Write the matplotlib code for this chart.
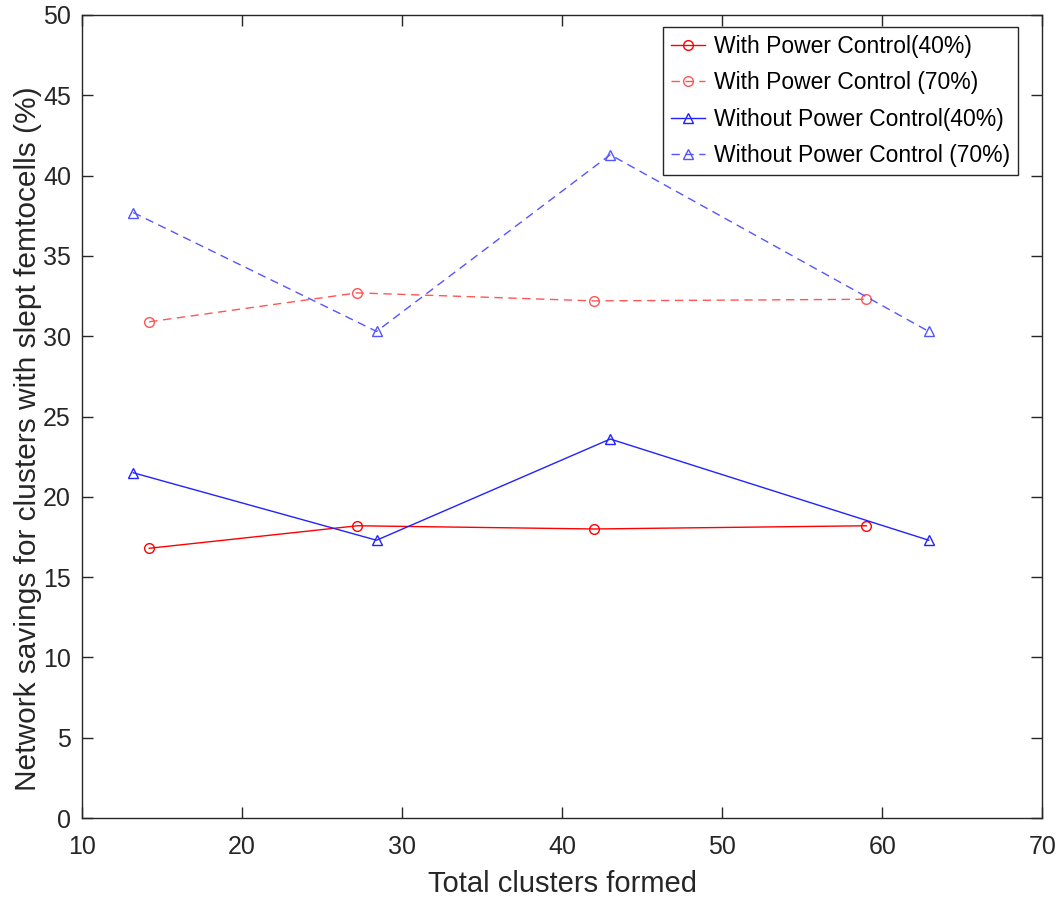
import matplotlib
matplotlib.use("Agg")
import matplotlib.pyplot as plt

plt.rcParams['font.family'] = ['Liberation Sans', 'DejaVu Sans']

# Données
x_wpc_40 = [14.2, 27.2, 42.0, 59.0]
y_wpc_40 = [16.8, 18.2, 18.0, 18.2]

x_wpc_70 = [14.2, 27.2, 42.0, 59.0]
y_wpc_70 = [30.9, 32.7, 32.2, 32.3]

x_wopc_40 = [13.2, 28.4, 43.0, 62.9]
y_wopc_40 = [21.5, 17.3, 23.6, 17.3]

x_wopc_70 = [13.2, 28.4, 43.0, 62.9]
y_wopc_70 = [37.7, 30.3, 41.3, 30.3]

labels = ['With Power Control(40%)', 'With Power Control (70%)',
          'Without Power Control(40%)', 'Without Power Control (70%)']

fig = plt.figure(figsize=(10.6, 9.08), dpi=100)
ax = fig.add_axes([0.0774, 0.099, 0.906, 0.8845])

ax.plot(x_wpc_40, y_wpc_40, color='#ff0000', linestyle='-', marker='o',
        markersize=7, markerfacecolor='none', linewidth=1, label=labels[0])
ax.plot(x_wpc_70, y_wpc_70, color='#ff5555', linestyle=(0, (6, 4)), marker='o',
        markersize=7, markerfacecolor='none', linewidth=1, label=labels[1])
ax.plot(x_wopc_40, y_wopc_40, color='#2222ff', linestyle='-', marker='^',
        markersize=7, markerfacecolor='none', linewidth=1, label=labels[2])
ax.plot(x_wopc_70, y_wopc_70, color='#5555ff', linestyle=(0, (6, 4)), marker='^',
        markersize=7, markerfacecolor='none', linewidth=1, label=labels[3])

ax.set_xlim(10, 70)
ax.set_ylim(0, 50)
ax.set_xticks(range(10, 71, 10))
ax.set_yticks(range(0, 51, 5))
ax.tick_params(direction='in', top=True, right=True, length=8, width=1,
               labelsize=18, colors='#262626')
ax.tick_params(axis='x', pad=12)
ax.tick_params(axis='y', pad=8)
for s in ax.spines.values():
    s.set_color('#262626')
    s.set_linewidth(1)

ax.set_xlabel('Total clusters formed', fontsize=21, color='#262626', labelpad=8)
ax.set_ylabel('Network savings for clusters with slept femtocells (%)', fontsize=21.5,
              color='#262626')
ax.yaxis.set_label_coords(-0.042, 0.472)

leg = ax.legend(loc='upper right', bbox_to_anchor=(0.975, 0.985), fontsize=16.5,
                fancybox=False, framealpha=1, edgecolor='#262626', handlelength=1.5,
                borderaxespad=0, handletextpad=0.4, labelspacing=0.58, borderpad=0.35)
leg.get_frame().set_linewidth(1)

plt.savefig('out.png', dpi=100)
